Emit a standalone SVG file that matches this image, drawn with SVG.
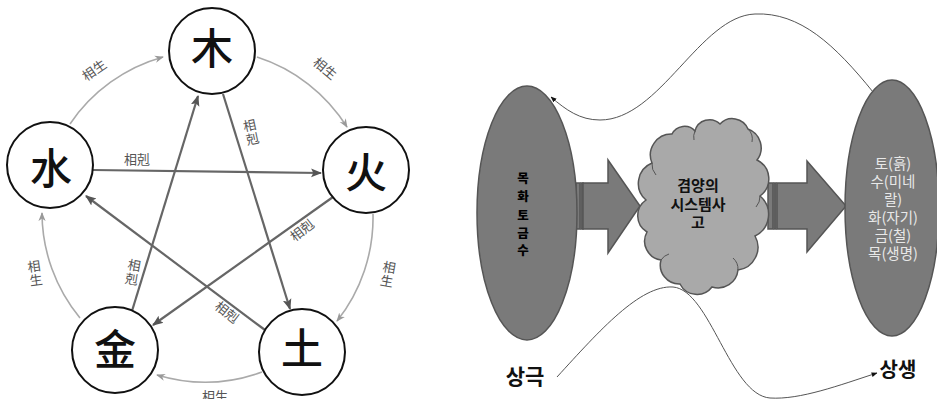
<svg xmlns="http://www.w3.org/2000/svg" width="937" height="399" viewBox="0 0 937 399">
<style>
.el{fill:#fff;stroke:#111;stroke-width:2}
.big{font-family:"Noto Sans CJK SC",sans-serif;font-size:42px;font-weight:500;fill:#111;text-anchor:middle}
.sg{fill:none;stroke:#aaa;stroke-width:1.6}
.sk{fill:none;stroke:#666;stroke-width:2.2}
.lb{font-family:"Noto Sans CJK SC",serif;font-size:13px;fill:#555;text-anchor:middle}
.kr{font-family:"Noto Sans CJK KR",sans-serif;text-anchor:middle}
.shape{fill:#7a7a7a;stroke:#555;stroke-width:1.5}
.thin{fill:none;stroke:#555;stroke-width:1}
</style>
<defs>
<marker id="ag" viewBox="0 0 10 10" refX="9" refY="5" markerWidth="9" markerHeight="9" markerUnits="userSpaceOnUse" orient="auto"><path d="M0,1 L10,5 L0,9 L3,5 z" fill="#999"/></marker>
<marker id="ak" viewBox="0 0 10 10" refX="9" refY="5" markerWidth="11" markerHeight="11" markerUnits="userSpaceOnUse" orient="auto"><path d="M0,1 L10,5 L0,9 L2,5 z" fill="#555"/></marker>
<marker id="at" viewBox="0 0 10 10" refX="9" refY="5" markerWidth="6" markerHeight="6" markerUnits="userSpaceOnUse" orient="auto"><path d="M0,1 L10,5 L0,9 z" fill="#111"/></marker>
</defs>
<rect width="937" height="399" fill="#fff"/>

<g id="connectors">
<path class="sg" d="M70 124 A166 166 0 0 1 163 57" marker-end="url(#ag)"/>
<path class="sg" d="M257 57 A166 166 0 0 1 347 127" marker-end="url(#ag)"/>
<path class="sg" d="M373 214 A166 166 0 0 1 337 321" marker-end="url(#ag)"/>
<path class="sg" d="M262 372 A166 166 0 0 1 157 375" marker-end="url(#ag)"/>
<path class="sg" d="M80 318 A166 166 0 0 1 42 213" marker-end="url(#ag)"/>
<line class="sk" x1="132" y1="311" x2="198" y2="96" marker-end="url(#ak)"/>
<line class="sk" x1="223" y1="94" x2="290" y2="309" marker-end="url(#ak)"/>
<line class="sk" x1="93" y1="170" x2="321" y2="173" marker-end="url(#ak)"/>
<line class="sk" x1="333" y1="197" x2="153" y2="325" marker-end="url(#ak)"/>
<line class="sk" x1="265" y1="330" x2="86" y2="196" marker-end="url(#ak)"/>
<text class="lb" transform="translate(97,74) rotate(-35)">相生</text>
<text class="lb" transform="translate(322,72) rotate(40)">相生</text>
<text class="lb" transform="translate(388,274) rotate(10)"><tspan x="0" y="-2">相</tspan><tspan x="0" y="12">生</tspan></text>
<text class="lb" transform="translate(35,273) rotate(-8)"><tspan x="0" y="-2">相</tspan><tspan x="0" y="12">生</tspan></text>
<text class="lb" x="215" y="401">相生</text>
<text class="lb" x="137" y="164">相剋</text>
<text class="lb" transform="translate(251,132) rotate(-12)"><tspan x="0" y="-2">相</tspan><tspan x="0" y="12">剋</tspan></text>
<text class="lb" transform="translate(305,234) rotate(-38)">相剋</text>
<text class="lb" transform="translate(133,272) rotate(10)"><tspan x="0" y="-2">相</tspan><tspan x="0" y="12">剋</tspan></text>
<text class="lb" transform="translate(224,316) rotate(38)">相剋</text>
</g>

<g id="wood"><circle class="el" cx="212" cy="51" r="43"/><text class="big" x="212" y="64">木</text></g>
<g id="water"><circle class="el" cx="50" cy="165" r="43"/><text class="big" x="51" y="184">水</text></g>
<g id="fire"><circle class="el" cx="366" cy="170" r="43"/><text class="big" x="366" y="188">火</text></g>
<g id="metal"><circle class="el" cx="115" cy="350" r="43"/><text class="big" x="115" y="365">金</text></g>
<g id="earth"><circle class="el" cx="302" cy="352" r="43"/><text class="big" x="302" y="364">土</text></g>

<g id="curves">
<path class="thin" d="M873 92 C835 45 800 12 755 14 C700 16 660 120 600 120 C580 120 566 110 551 97" marker-end="url(#at)"/>
<path class="thin" d="M557 377 C600 330 640 285 673 287 C710 290 730 395 770 398 C800 400 840 385 877 373" marker-end="url(#at)"/>
</g>

<g id="arrow-left">
<rect class="shape" x="576" y="183" width="4" height="46" stroke-width="1"/>
<rect class="shape" x="581" y="183" width="2" height="46" stroke-width="0.8"/>
<path class="shape" d="M583 183 H608 V160 L640 206 L608 253 V229 H583 Z"/>
</g>
<g id="arrow-right">
<rect class="shape" x="768" y="183" width="5" height="46" stroke-width="1"/>
<rect class="shape" x="774" y="183" width="2" height="46" stroke-width="0.8"/>
<path class="shape" d="M777 183 H807 V161 L846 206 L807 252 V229 H777 Z"/>
</g>

<g id="left-ellipse">
<ellipse class="shape" cx="527" cy="213" rx="50" ry="127"/>
<text class="kr" font-size="12.5" font-weight="900" fill="#000"><tspan x="523" y="183">목</tspan><tspan x="523" y="201">화</tspan><tspan x="523" y="220">토</tspan><tspan x="523" y="238">금</tspan><tspan x="523" y="255">수</tspan></text>
</g>

<g id="cloud">
<path d="M646 200 A22 22 0 0 1 652 163 A21 21 0 0 1 672 134 A14 14 0 0 1 695 131 A15 15 0 0 1 720 124 A17 17 0 0 1 748 129 A20 20 0 0 1 757 160 A21 21 0 0 1 760 196 A24 24 0 0 1 755 236 A23 23 0 0 1 738 270 A20 20 0 0 1 712 287 A19 19 0 0 1 680 284 A19 19 0 0 1 661 260 A19 19 0 0 1 647 232 A19 19 0 0 1 646 200 Z" fill="#a9a9a9" stroke="#555" stroke-width="1.5"/>
<path class="thin" d="M652 163 A16 16 0 0 0 656 175 M695 131 A14 14 0 0 0 694 140 M748 129 A14 14 0 0 1 752 142 M760 196 A16 16 0 0 1 756 207 M738 270 A15 15 0 0 0 733 258 M661 260 A14 14 0 0 1 669 254"/>
<text class="kr" font-size="15" font-weight="bold" fill="#111"><tspan x="698" y="191">겸양의</tspan><tspan x="698" y="210">시스템사</tspan><tspan x="698" y="228">고</tspan></text>
</g>

<g id="right-ellipse">
<ellipse class="shape" cx="892" cy="208" rx="47" ry="128"/>
<text class="kr" font-size="14.5" fill="#e8e8e8"><tspan x="893" y="169">토(흙)</tspan><tspan x="893" y="187">수(미네</tspan><tspan x="893" y="205">랄)</tspan><tspan x="893" y="223">화(자기)</tspan><tspan x="893" y="241">금(철)</tspan><tspan x="893" y="259">목(생명)</tspan></text>
</g>

<g id="labels">
<text class="kr" x="525" y="384" font-size="21" font-weight="bold" fill="#111">상극</text>
<text class="kr" x="898" y="377" font-size="20" font-weight="bold" fill="#111">상생</text>
</g>
</svg>
